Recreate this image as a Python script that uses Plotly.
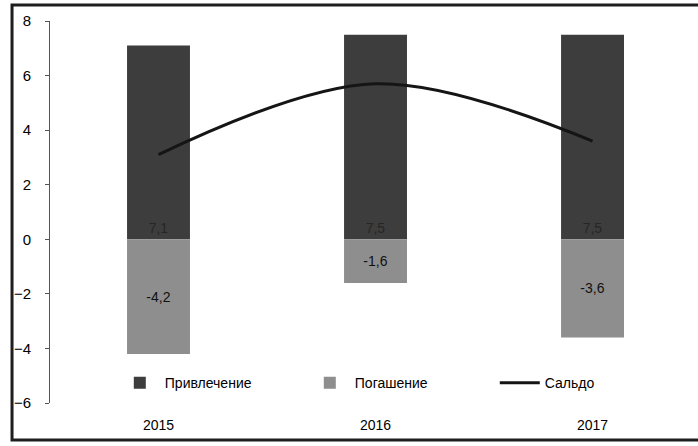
import plotly.graph_objects as go

years = ["2015", "2016", "2017"]
attraction = [7.1, 7.5, 7.5]
repayment = [-4.2, -1.6, -3.6]
balance = [3.1, 5.7, 3.6]
y_ticks = [-6, -4, -2, 0, 2, 4, 6, 8]

def fmt(v):
    return f"{v:.1f}".replace(".", ",")

FONT = "Liberation Sans, Arial, sans-serif"

fig = go.Figure()
fig.add_trace(go.Bar(
    x=years, y=attraction, name="Привлечение",
    marker=dict(color="#3d3d3d", line=dict(width=0)),
    text=[fmt(v) for v in attraction], textposition="inside",
    insidetextanchor="start",
    textfont=dict(color="#262626", size=14, family=FONT),
    width=0.29,
))
fig.add_trace(go.Bar(
    x=years, y=repayment, name="Погашение",
    marker=dict(color="#8e8e8e", line=dict(width=0)),
    text=[fmt(v) for v in repayment], textposition="inside",
    insidetextanchor="middle",
    textfont=dict(color="#111111", size=14, family=FONT),
    width=0.29,
))
fig.add_trace(go.Scatter(
    x=years, y=balance, name="Сальдо", mode="lines",
    line=dict(color="#151515", width=3, shape="spline", smoothing=1.0),
))

fig.update_layout(
    width=698, height=446,
    margin=dict(l=50, r=0, t=21, b=43),
    paper_bgcolor="white", plot_bgcolor="white",
    barmode="relative",
    font=dict(family=FONT, size=14, color="#000000"),
    showlegend=True,
    legend=dict(
        orientation="h", x=0.1, y=0.052, xanchor="left", yanchor="middle",
        bgcolor="rgba(0,0,0,0)", font=dict(size=14, color="#000000"),
        entrywidth=135, entrywidthmode="pixels", itemwidth=40,
        traceorder="normal",
    ),
    xaxis=dict(
        range=[-0.5, 2.486], showline=False, ticks="", showgrid=False,
        zeroline=False, tickfont=dict(size=14, color="#000000"),
        ticklabelstandoff=12,
    ),
    yaxis=dict(
        range=[-6, 8], tickvals=y_ticks, showgrid=False, zeroline=False,
        showline=True, linecolor="#555555", linewidth=1,
        ticks="outside", ticklen=4, tickcolor="#555555",
        tickfont=dict(size=15, color="#000000"), ticklabelstandoff=11,
    ),
    shapes=[dict(
        type="rect", xref="paper", yref="paper",
        x0=-0.0586, x1=1.05, y0=-0.097, y1=1.042,
        line=dict(color="#1e1e1e", width=3), fillcolor="rgba(0,0,0,0)",
        layer="above",
    )],
)

fig.write_html("out.html")
